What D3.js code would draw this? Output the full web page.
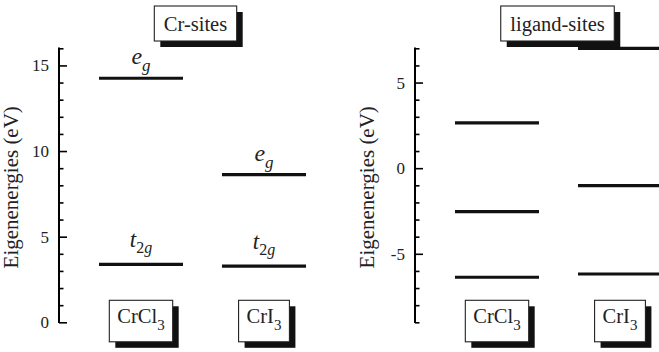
<!DOCTYPE html>
<html>
<head>
<meta charset="utf-8">
<script src="https://cdn.jsdelivr.net/npm/d3@7"></script>
<style>
  html, body { margin: 0; padding: 0; background: #fff; }
  svg { display: block; font-family: "Liberation Serif", "Times New Roman", serif; }
</style>
</head>
<body>
<svg id="chart" width="659" height="352"></svg>
<script>
// ---------------- data ----------------
const categories = ["CrCl3", "CrI3"];
const categoryMain = ["CrCl", "CrI"];
const categorySub = ["3", "3"];

// Cr-sites eigenenergies (eV)
const crEg = [14.25, 8.62];
const crT2g = [3.38, 3.28];

// ligand-sites eigenenergies (eV)
const ligandCrCl3 = [2.64, -2.54, -6.37];
const ligandCrI3 = [7.0, -1.02, -6.18];

// axes
const crDomain = [0, 16];
const ligandDomain = [-9, 7];
const crMajorTicks = [0, 5, 10, 15];
const crTickLabels = ["0", "5", "10", "15"];
const ligandMajorTicks = [-5, 0, 5];
const ligandTickLabels = ["-5", "0", "5"];

const panelTitles = ["Cr-sites", "ligand-sites"];
const yTitle = "Eigenenergies (eV)";

// ---------------- drawing ----------------
const svg = d3.select("#chart");
const yTop = 48.3, yBottom = 322.3;
const halfW = 42;

function drawPanel(axisX, domain, majorTicks, tickLabels, title, titleCx, levelsByCat, labelFn) {
  const g = svg.append("g");
  const y = d3.scaleLinear().domain(domain).range([yBottom, yTop]);
  const x = d3.scalePoint().domain(categories).range([axisX + 82, axisX + 205]);

  // minor ticks (every 1 eV)
  const minor = d3.range(domain[0], domain[1] + 1).filter(v => !majorTicks.includes(v));
  const axisMinor = d3.axisRight(y).tickValues(minor).tickSize(4.5).tickFormat("");
  const aMin = g.append("g").attr("transform", `translate(${axisX},0)`).call(axisMinor);
  aMin.select(".domain").remove();
  aMin.selectAll(".tick line").attr("stroke", "#000").attr("stroke-width", 1.6);

  const axisMajor = d3.axisRight(y).tickValues(majorTicks).tickSize(8)
    .tickFormat((d, i) => tickLabels[i]);
  const aMaj = g.append("g").attr("transform", `translate(${axisX},0)`).call(axisMajor);
  aMaj.select(".domain").remove();
  aMaj.selectAll(".tick line").attr("stroke", "#000").attr("stroke-width", 1.6);
  aMaj.selectAll(".tick text")
    .attr("x", -10).attr("text-anchor", "end")
    .attr("font-family", "Liberation Serif").attr("font-size", 17).attr("fill", "#222");

  // axis line
  g.append("line")
    .attr("x1", axisX).attr("x2", axisX)
    .attr("y1", y(domain[0]) + 0.8).attr("y2", y(domain[1]) - 0.8)
    .attr("stroke", "#000").attr("stroke-width", 2);

  // y title
  g.append("text")
    .attr("transform", `translate(${axisX - 41},${(yTop + yBottom) / 2 + 2}) rotate(-90)`)
    .attr("text-anchor", "middle")
    .attr("font-size", 21).attr("fill", "#222")
    .text(yTitle);

  // levels
  categories.forEach((c, i) => {
    levelsByCat[i].forEach(v => {
      g.append("line")
        .attr("x1", x(c) - halfW).attr("x2", x(c) + halfW)
        .attr("y1", y(v)).attr("y2", y(v))
        .attr("stroke", "#111").attr("stroke-width", 3.2);
    });
    if (labelFn) labelFn(g, x(c), y, i);
  });

  // title box
  shadowBox(g, titleCx, 31, 25, 10, 9.5, t => t.attr("font-size", 20.5).text(title));

  // category boxes
  categories.forEach((c, i) => {
    shadowBox(g, x(c), 323.3, 23, 18.5, 8, t => {
      t.append("tspan").attr("font-size", 20.5).text(categoryMain[i]);
      t.append("tspan").attr("font-size", 15).attr("dy", 7).text(categorySub[i]);
    });
  });
}

function shadowBox(g, cx, baseline, above, below, padX, build) {
  const bg = g.append("g");
  const t = g.append("text").attr("x", cx).attr("y", baseline)
    .attr("text-anchor", "middle").attr("fill", "#222");
  build(t);
  const bb = t.node().getBBox();
  const w = bb.width + 2 * padX;
  const x0 = cx - w / 2, y0 = baseline - above, h = above + below;
  bg.append("rect").attr("x", x0 + 6).attr("y", y0 + 6).attr("width", w).attr("height", h)
    .attr("fill", "#111");
  bg.append("rect").attr("x", x0).attr("y", y0).attr("width", w).attr("height", h)
    .attr("fill", "#fff").attr("stroke", "#222").attr("stroke-width", 1.1);
}

function crLabels(g, cx, y, i) {
  const ye = y(crEg[i]);
  const te = g.append("text").attr("x", cx).attr("y", ye - 14)
    .attr("text-anchor", "middle").attr("fill", "#222").attr("font-style", "italic");
  te.append("tspan").attr("font-size", 24).text("e");
  te.append("tspan").attr("font-size", 17).attr("dy", 7).text("g");

  const yt = y(crT2g[i]);
  const tt = g.append("text").attr("x", cx).attr("y", yt - 17)
    .attr("text-anchor", "middle").attr("fill", "#222");
  tt.append("tspan").attr("font-size", 23).attr("font-style", "italic").text("t");
  tt.append("tspan").attr("font-size", 16).attr("dy", 6).text("2");
  tt.append("tspan").attr("font-size", 16).attr("font-style", "italic").text("g");
}

drawPanel(59, crDomain, crMajorTicks, crTickLabels, panelTitles[0], 195.5,
  [[crEg[0], crT2g[0]], [crEg[1], crT2g[1]]], crLabels);
drawPanel(415, ligandDomain, ligandMajorTicks, ligandTickLabels, panelTitles[1], 557.5,
  [ligandCrCl3, ligandCrI3], null);
</script>
</body>
</html>
